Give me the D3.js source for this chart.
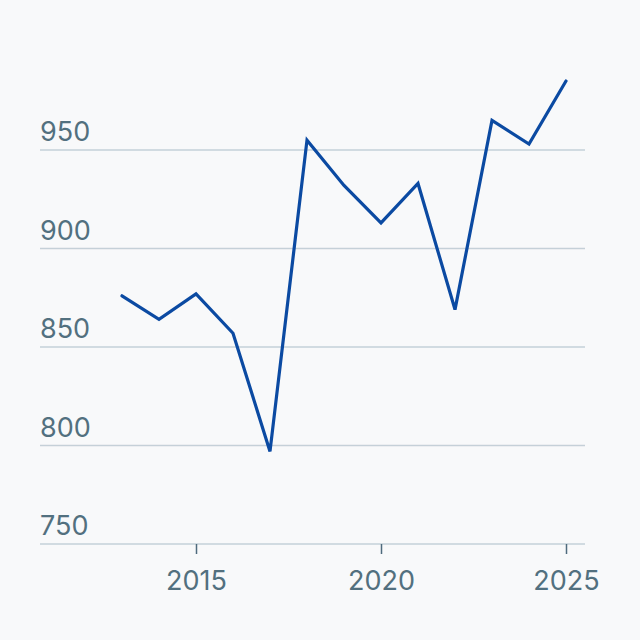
<!DOCTYPE html>
<html><head><meta charset="utf-8">
<script src="https://cdn.jsdelivr.net/npm/d3@7"></script>
<style>
html,body{margin:0;padding:0;background:#f8f9fa;}
svg{display:block;font-family:Inter,Roboto,"Noto Sans",sans-serif;}
</style></head>
<body>
<svg id="chart" width="640" height="640"></svg>
<script>
const years = [2013,2014,2015,2016,2017,2018,2019,2020,2021,2022,2023,2024,2025];
const values = [876,864,877,857,797,955,932,913,933,869,965,953,985];
const yTicks = [750,800,850,900,950];
const xTicks = [2015,2020,2025];

const svg = d3.select("#chart");
svg.append("rect").attr("width",640).attr("height",640).attr("fill","#f8f9fa");

const x = d3.scaleLinear().domain([2013,2025]).range([122,566]);
const y = d3.scaleLinear().domain([750,950]).range([544,150]);
const gridLeft = 40, gridRight = 585;

const yg = svg.append("g");
yg.selectAll("line").data(yTicks).join("line")
  .attr("x1",gridLeft).attr("x2",gridRight)
  .attr("y1",d=>y(d)).attr("y2",d=>y(d))
  .attr("stroke","#c5d0d8").attr("stroke-width",1.5);
yg.selectAll("text").data(yTicks).join("text")
  .attr("x",gridLeft).attr("y",d=>y(d)-9)
  .attr("fill","#52707f").attr("font-size",27)
  .text(d=>d);

const xAxis = d3.axisBottom(x).tickValues(xTicks).tickFormat(d3.format("d")).tickSize(10).tickPadding(17);
const xg = svg.append("g").attr("transform",`translate(0,${y(750)})`).call(xAxis);
xg.select(".domain").remove();
xg.selectAll(".tick line").attr("stroke","#4f6b7d").attr("stroke-width",1.5);
xg.selectAll(".tick text").attr("fill","#52707f").attr("font-size",27).attr("font-family","Inter,Roboto,sans-serif");

const line = d3.line().x((d,i)=>x(years[i])).y(d=>y(d));
svg.append("path").datum(values)
  .attr("d",line).attr("fill","none")
  .attr("stroke","#0b4aa2").attr("stroke-width",3.2)
  .attr("stroke-linejoin","miter").attr("stroke-linecap","round");
</script>
</body></html>
